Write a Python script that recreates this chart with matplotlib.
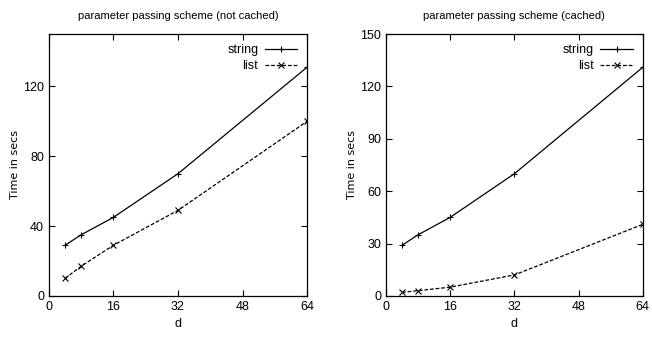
import matplotlib.pyplot as plt

d = [4, 8, 16, 32, 64]
string_nc = [29, 35, 45, 70, 131]
list_nc = [10, 17, 29, 49, 100]
string_c = [29, 35, 45, 70, 131]
list_c = [2, 3, 5, 12, 41]

plt.rcParams['font.family'] = ['Liberation Sans Narrow', 'Liberation Sans', 'DejaVu Sans']

fig = plt.figure(figsize=(6.52, 3.37), dpi=100)
ax1 = fig.add_axes([0.075, 0.122, 0.396, 0.777])
ax2 = fig.add_axes([0.592, 0.122, 0.394, 0.777])


def draw(ax, s, l, title, yticks):
    ax.plot(d, s, color='black', lw=0.9, marker='+', ms=5, mew=0.8, label='string')
    ax.plot(d, l, color='black', lw=0.9, ls=(0, (3, 1.5)), marker='x', ms=4,
            mew=0.8, label='list')
    ax.set_xlim(0, 64)
    ax.set_ylim(0, 150)
    ax.set_xticks([0, 16, 32, 48, 64])
    ax.set_yticks(yticks)
    ax.tick_params(direction='in', top=True, right=True, labelsize=9, length=4)
    ax.set_xlabel('d', fontsize=9)
    ax.set_ylabel('Time in secs', fontsize=8, family='DejaVu Sans', labelpad=2)
    ax.set_title(title, fontsize=8, pad=11)
    for sp in ax.spines.values():
        sp.set_linewidth(0.9)
    ax.legend(loc='upper right', frameon=False, markerfirst=False, fontsize=9,
              handlelength=2.6, handletextpad=0.5, labelspacing=0.35,
              borderaxespad=0.4)


draw(ax1, string_nc, list_nc, 'parameter passing scheme (not cached)', [0, 40, 80, 120])
draw(ax2, string_c, list_c, 'parameter passing scheme (cached)', [0, 30, 60, 90, 120, 150])

fig.savefig('out.png', dpi=100)
